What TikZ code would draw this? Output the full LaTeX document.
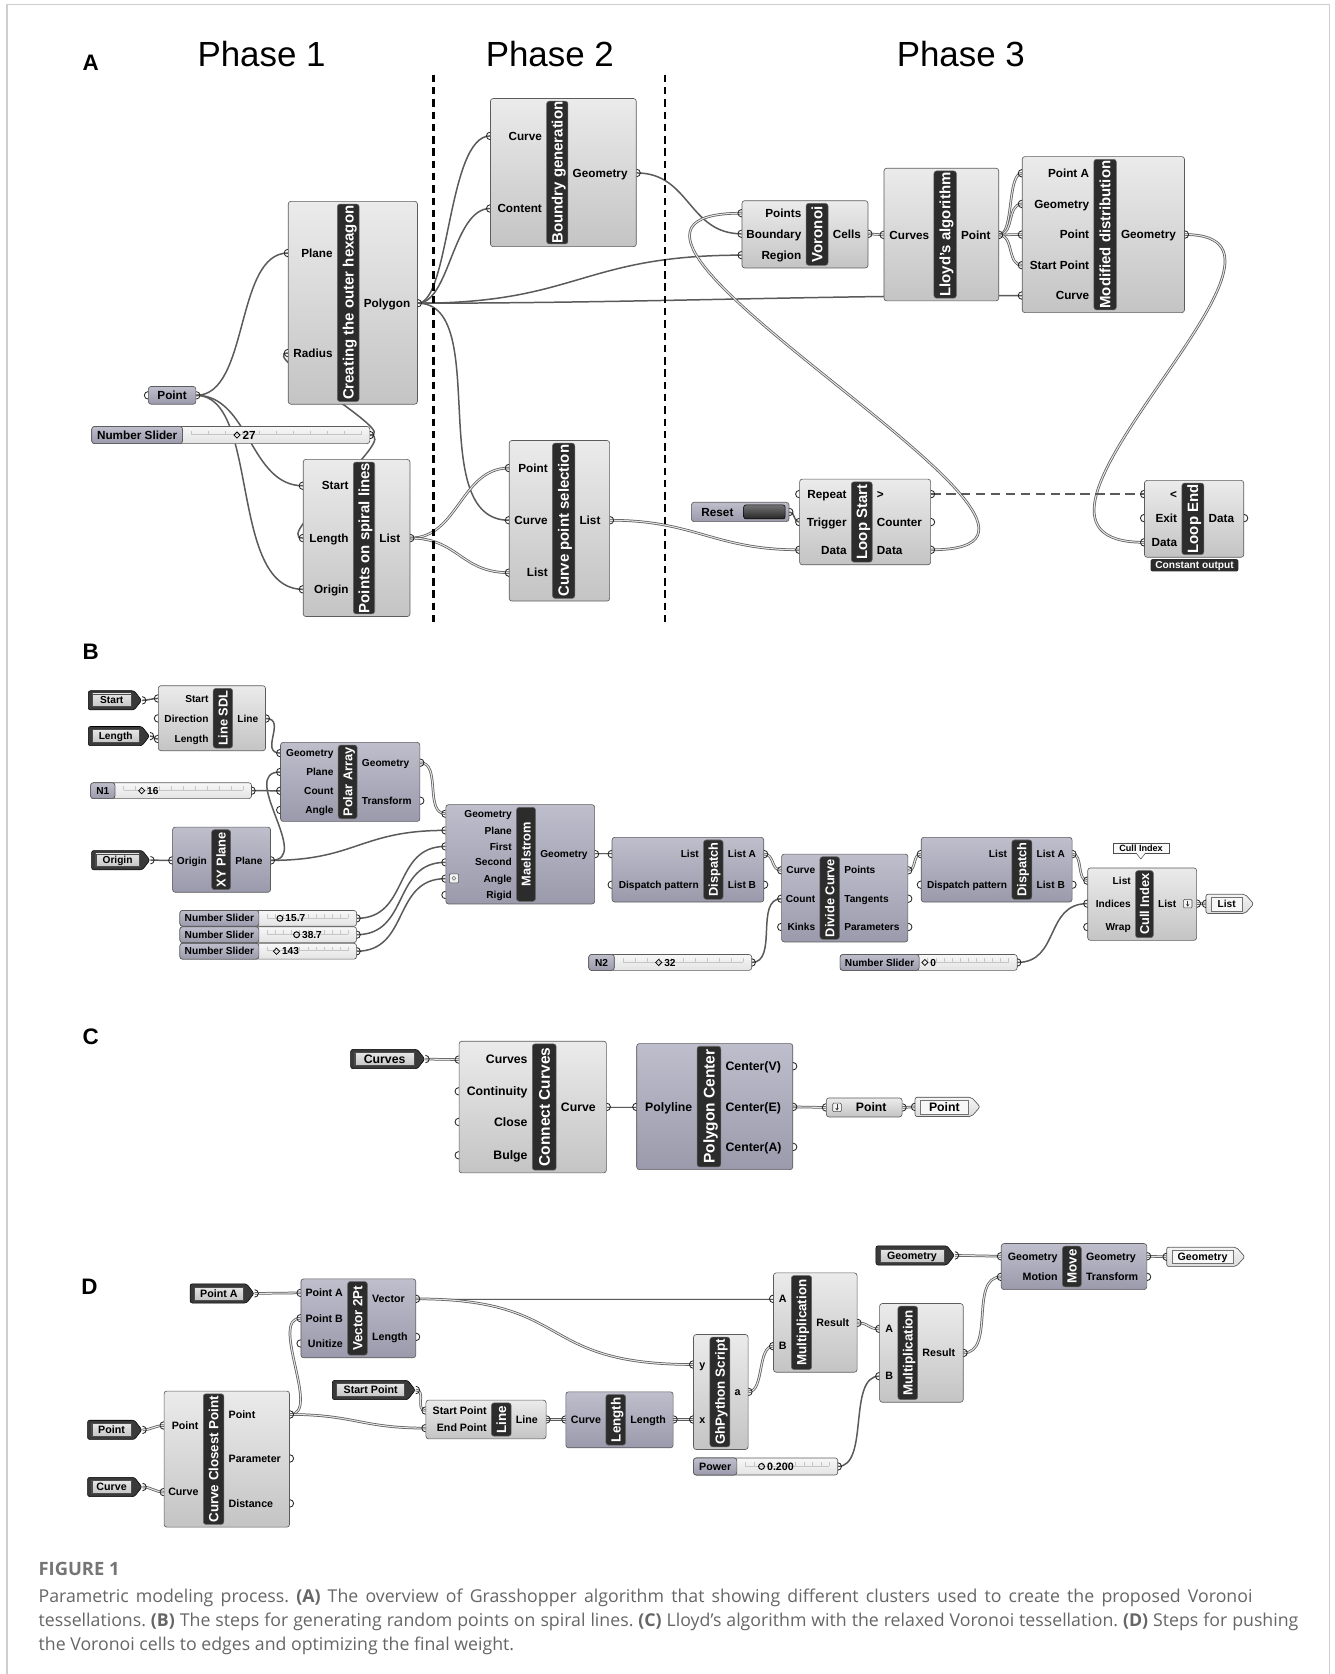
\documentclass[tikz,border=0pt]{standalone}
\usepackage{fontspec}
\setmainfont{Liberation Sans}
\setsansfont{Liberation Sans}
\newfontfamily\capfont{Open Sans}
\usetikzlibrary{positioning,fit,calc,shapes.geometric,arrows.meta,backgrounds}

\definecolor{compLt}{HTML}{EBEBEB}
\definecolor{compLb}{HTML}{C4C4C4}
\definecolor{compDt}{HTML}{BEBECC}
\definecolor{compDb}{HTML}{9A9AAC}
\definecolor{bordc}{HTML}{5C5C5C}
\definecolor{barc}{HTML}{2C2C2C}
\definecolor{wirec}{HTML}{5A5A5A}
\definecolor{dwirefill}{HTML}{E4E4E4}
\definecolor{darkpar}{HTML}{3A3A3A}
\definecolor{capc}{HTML}{666666}
\definecolor{framec}{HTML}{CFCFCF}

\newcommand{\sldh}{8}
\newcommand{\portL}[1]{\draw[port] (#1) ++(0,3.5) arc[start angle=90,end angle=270,radius=3.5];}
\newcommand{\portR}[1]{\draw[port] (#1) ++(0,-3.5) arc[start angle=-90,end angle=90,radius=3.5];}
% component: style, name, x1, y1, x2, y2, bar x1, bar x2, title
\newcommand{\ghbox}[9]{%
  \node[#1, fit={(#3,#4) (#5,#6)}] (#2) {};
  \node[ghbar, fit={(#7,#4+2.5) (#8,#6-2.5)}] (#2bar) {};
  \node[bartxt] (#2title) at (#2bar.center) {#9};}
\newcommand{\gin}[4]{%
  \coordinate (#2) at (#1.west |- 0,#3);
  \portL{#2}
  \node[lbl, anchor=east, xshift=-4pt] (#2l) at (#1bar.west |- #2) {#4};}
\newcommand{\gout}[4]{%
  \coordinate (#2) at (#1.east |- 0,#3);
  \portR{#2}
  \node[lbl, anchor=west, xshift=4pt] (#2l) at (#1bar.east |- #2) {#4};}
% dark input parameter: name, x1, x2, y, text
\newcommand{\ghdpar}[5]{%
  \filldraw[dparout] (#2,#4-9) -- (#3-7,#4-9) -- (#3,#4) -- (#3-7,#4+9) -- (#2,#4+9) -- cycle;
  \node[dparin, fit={(#2+4,#4-6) (#3-10,#4+6)}] (#1) {};
  \node[lbl] (#1t) at (#1.center) {#5};
  \coordinate (#1o) at (#3+0.5,#4);
  \portR{#1o}}
% light output parameter: name, x1, x2, y, text
\newcommand{\ghlpar}[5]{%
  \filldraw[lparout] (#2,#4-9) -- (#3-8,#4-9) -- (#3,#4) -- (#3-8,#4+9) -- (#2,#4+9) -- cycle;
  \node[lparin, fit={(#2+5,#4-6.5) (#3-11,#4+6.5)}] (#1) {};
  \node[lbl] (#1t) at (#1.center) {#5};
  \coordinate (#1i) at (#2,#4);
  \portL{#1i}}
% slider: name, x1, x2, y, label end, label, marker x, marker, value
\newcommand{\ghslider}[9]{%
  \node[sldtrack, fit={(#2,#4-\sldh) (#3,#4+\sldh)}] (#1) {};
  \filldraw[sldlab] (#2,#4-\sldh) rectangle (#5,#4+\sldh);
  \draw[sldtick] (#5+8,#4-0.5) -- (#3-8,#4-0.5);
  \foreach \k in {0,...,10}
    \draw[sldtick] ({#5+8+\k*(#3-#5-16)/10},#4-0.5) -- ++(0,-3.5);
  \node[#8] (#1m) at (#7,#4) {};
  \node[lbl, anchor=west] (#1v) at (#7+5,#4) {#9};
  \node[lbl] (#1l) at ({(#2+#5)/2},#4) {#6};
  \coordinate (#1o) at (#3,#4);
  \portR{#1o}}
\newcommand{\ghicon}[2]{%
  \draw[icon] (#1-4,#2-4) rectangle (#1+4,#2+4);
  \draw[iconarr] (#1,#2-2.8) -- (#1,#2+2.8);}

\begin{document}
\begin{tikzpicture}[x=1pt, y=-1pt,
    ghL/.style={draw=bordc, line width=0.6pt, rounded corners=2.5pt, top color=compLt, bottom color=compLb, inner sep=0pt},
    ghD/.style={ghL, top color=compDt, bottom color=compDb},
    ghbar/.style={fill=barc, draw=black!60, line width=0.5pt, rounded corners=2.5pt, inner sep=0pt},
    port/.style={draw=black!85, line width=0.8pt},
    wire/.style={draw=wirec, line width=1.4pt},
    dwire/.style={draw=wirec, line width=0.7pt, double=dwirefill, double distance=1pt},
    loopline/.style={draw=wirec, line width=2pt, dash pattern=on 9pt off 5pt},
    phasesep/.style={draw=black, line width=2.4pt, dash pattern=on 7pt off 4.5pt},
    dparout/.style={fill=darkpar, draw=black, line width=0.5pt, rounded corners=2pt},
    dparin/.style={draw=black!70, line width=0.5pt, top color=gray!20, bottom color=gray!45, inner sep=0pt},
    lparout/.style={draw=bordc, line width=0.6pt, top color=gray!8, bottom color=gray!28, rounded corners=2pt},
    lparin/.style={draw=black!55, line width=0.5pt, fill=white!94!gray, inner sep=0pt},
    sldtrack/.style={draw=bordc, line width=0.6pt, rounded corners=2.5pt, top color=gray!6, bottom color=gray!22, inner sep=0pt},
    sldlab/.style={draw=bordc, line width=0.6pt, rounded corners=2.5pt, top color=compDt, bottom color=compDb},
    sldtick/.style={draw=gray!45, line width=0.4pt},
    sdia/.style={diamond, draw=black, line width=0.7pt, minimum size=6pt, inner sep=0pt},
    scirc/.style={circle, draw=black, line width=0.9pt, minimum size=5.5pt, inner sep=0pt},
    icon/.style={draw=black!70, line width=0.5pt, fill=gray!10, rounded corners=1pt},
    iconarr/.style={draw=black!80, line width=0.6pt, -{Stealth[length=2.2pt,width=3pt]}},
    rstbtn/.style={draw=black, line width=0.5pt, top color=black!55, bottom color=black!85, rounded corners=2pt, inner sep=0pt},
    grpbox/.style={fill=barc, rounded corners=2pt, inner sep=0pt},
    tipbox/.style={draw=black!70, fill=white!95!gray, line width=0.5pt, inner sep=0pt},
    gh/.style={to path={.. controls +(#1,0) and +(-#1,0) .. (\tikztotarget)}},
    lbl/.style={font=\bfseries\fontsize{11}{11}\selectfont, inner sep=0pt, text height=7.9pt, text depth=0pt},
    bartxt/.style={text=white, rotate=90, font=\bfseries\fontsize{14}{14}\selectfont, inner sep=0pt, text height=10pt, text depth=0pt},
    sect/.style={font=\bfseries\fontsize{21}{21}\selectfont, anchor=base west, inner sep=0pt},
    phase/.style={font=\fontsize{32.7}{33}\selectfont, anchor=base, inner sep=0pt},
    captxt/.style={font=\capfont\fontsize{16.6}{19}\selectfont\frenchspacing, text=capc, anchor=base west, inner sep=0pt}]
  \useasboundingbox (0,0) rectangle (1250,1568);

  % frame
  \draw[framec, line width=1.4pt] (6.4,1568) -- (6.4,4.4) -- (1245.5,4.4) -- (1245.5,1568);

  % panel letters and phases
  \node[sect] (labA) at (77.3,66.2) {A};
  \node[sect] (labB) at (77.3,618) {B};
  \node[sect] (labC) at (77.3,978.5) {C};
  \node[sect] (labD) at (76,1212.5) {D};
  \node[phase] (phOne) at (245,62.4) {Phase 1};
  \node[phase] (phTwo) at (515,62.4) {Phase 2};
  \node[phase] (phThree) at (900,62.4) {Phase 3};
  \draw[phasesep] (406,70) -- (406,586);
  \draw[phasesep] (622.7,70) -- (622.7,586);

  % ---------- A ----------
  \node[ghD, fit={(139,362) (183.5,378.6)}] (aPt) {};
  \node[lbl] (aPtt) at (aPt) {Point};
  \coordinate (aPtIn) at (aPt.west); \portL{aPtIn}
  \coordinate (aPtOut) at (aPt.east); \portR{aPtOut}
  \ghslider{sld}{86}{346.4}{407.5}{171}{Number Slider}{222}{sdia}{27}

  \ghbox{ghL}{hex}{270}{188.6}{391}{378.6}{316}{336.4}{Creating the outer hexagon}
  \gin{hex}{hexPlane}{237}{Plane}
  \gin{hex}{hexRadius}{330.7}{Radius}
  \gout{hex}{hexPoly}{284}{Polygon}

  \ghbox{ghL}{psl}{284}{430.3}{384}{577.5}{331}{351}{Points on spiral lines}
  \gin{psl}{pslStart}{455}{Start}
  \gin{psl}{pslLength}{504}{Length}
  \gin{psl}{pslOrigin}{552}{Origin}
  \gout{psl}{pslList}{504}{List}

  \ghbox{ghL}{bg}{459.4}{92.3}{596}{231}{512}{532}{Boundry generation}
  \gin{bg}{bgCurve}{127.3}{Curve}
  \gin{bg}{bgContent}{195.3}{Content}
  \gout{bg}{bgGeo}{162}{Geometry}

  \ghbox{ghL}{cps}{477}{412.6}{571}{563}{517.5}{538.4}{Curve point selection}
  \gin{cps}{cpsPoint}{438.4}{Point}
  \gin{cps}{cpsCurve}{487.3}{Curve}
  \gin{cps}{cpsList}{536.4}{List}
  \gout{cps}{cpsOut}{487.3}{List}

  \ghbox{ghL}{vor}{695}{188}{813}{251}{755}{775.6}{Voronoi}
  \gin{vor}{vorPoints}{199.7}{Points}
  \gin{vor}{vorBound}{219}{Boundary}
  \gin{vor}{vorRegion}{239}{Region}
  \gout{vor}{vorCells}{219}{Cells}

  \ghbox{ghL}{ll}{828}{157.6}{935.5}{281.8}{874.8}{895.8}{Lloyd's algorithm}
  \gin{ll}{llCurves}{220}{Curves}
  \gout{ll}{llPt}{220}{Point}

  \ghbox{ghL}{md}{957.5}{146.7}{1109.5}{292.8}{1024.6}{1045.6}{Modified distribution}
  \gin{md}{mdPtA}{162.3}{Point A}
  \gin{md}{mdGeo}{191}{Geometry}
  \gin{md}{mdPt}{219.7}{Point}
  \gin{md}{mdStart}{248.4}{Start Point}
  \gin{md}{mdCurve}{276.8}{Curve}
  \gout{md}{mdOut}{219.7}{Geometry}

  \node[ghD, fit={(647.6,470.5) (739,488.6)}] (rst) {};
  \node[rstbtn, fit={(696.6,473) (735.5,486)}] (rstb) {};
  \node[lbl] (rstt) at (672,479.5) {Reset};
  \coordinate (rstOut) at (rst.east); \portR{rstOut}

  \ghbox{ghL}{ls}{749}{448.8}{871.7}{529}{797.4}{817}{Loop Start}
  \gin{ls}{lsRep}{462.8}{Repeat}
  \gin{ls}{lsTrig}{489}{Trigger}
  \gin{ls}{lsData}{515}{Data}
  \gout{ls}{lsMore}{462.8}{>}
  \gout{ls}{lsCnt}{489}{Counter}
  \gout{ls}{lsDataO}{515}{Data}

  \ghbox{ghL}{le}{1072}{450}{1165}{522}{1107}{1127.6}{Loop End}
  \gin{le}{leLess}{462.8}{<}
  \gin{le}{leExit}{485.3}{Exit}
  \gin{le}{leData}{508}{Data}
  \gout{le}{leOut}{485.3}{Data}
  \node[grpbox, fit={(1077.7,523.7) (1160,535.3)}] (leGrp) {};
  \node[lbl, text=white, font=\bfseries\fontsize{9.5}{9.5}\selectfont, text height=6.8pt] (leGrpt) at (leGrp) {Constant output};

  % ---------- B ----------
  \begin{scope}[lbl/.style={font=\bfseries\fontsize{9.5}{9.5}\selectfont, inner sep=0pt, text height=6.8pt, text depth=0pt},
      bartxt/.style={text=white, rotate=90, font=\bfseries\fontsize{12}{12}\selectfont, inner sep=0pt, text height=8.6pt, text depth=0pt}]
    \renewcommand{\sldh}{7.4}
    \ghdpar{bStart}{82.7}{132.7}{656}{Start}
    \ghdpar{bLen}{82.7}{140}{689.5}{Length}
    \ghbox{ghL}{sdl}{148.3}{642.3}{248.7}{703.2}{199.7}{217.9}{Line SDL}
    \gin{sdl}{sdlStart}{654.2}{Start}
    \gin{sdl}{sdlDir}{672.9}{Direction}
    \gin{sdl}{sdlLen}{692.2}{Length}
    \gout{sdl}{sdlLine}{673}{Line}

    \ghbox{ghD}{pa}{262.8}{695.4}{393.3}{769.4}{316.8}{334.6}{Polar Array}
    \gin{pa}{paGeo}{705.4}{Geometry}
    \gin{pa}{paPlane}{723.1}{Plane}
    \gin{pa}{paCount}{740.7}{Count}
    \gin{pa}{paAngle}{758.7}{Angle}
    \gout{pa}{paGeoO}{714.4}{Geometry}
    \gout{pa}{paTr}{750}{Transform}

    \ghslider{nOne}{84.9}{235.6}{740.6}{107.7}{N1}{132.7}{sdia}{16}

    \ghbox{ghD}{xy}{161.7}{774.7}{253.4}{835.8}{198.2}{216}{XY Plane}
    \gin{xy}{xyOrigin}{805.9}{Origin}
    \gout{xy}{xyPlane}{805.9}{Plane}
    \ghdpar{bOrg}{85.8}{140.4}{805.7}{Origin}

    \ghbox{ghD}{ma}{417.6}{753.7}{557}{846.7}{483.8}{501.6}{Maelstrom}
    \gin{ma}{maGeo}{762.2}{Geometry}
    \gin{ma}{maPlane}{777.8}{Plane}
    \gin{ma}{maFirst}{792.8}{First}
    \gin{ma}{maSecond}{807.7}{Second}
    \gin{ma}{maAngle}{823}{Angle}
    \gin{ma}{maRigid}{838.3}{Rigid}
    \gout{ma}{maOut}{800}{Geometry}
    \draw[icon] (421,818.5) rectangle (429.5,827);
    \draw[black!60, line width=0.5pt] (425.2,822.7) circle[radius=1.8pt];

    \ghslider{sOne}{168.5}{334}{860.2}{242.5}{Number Slider}{262.2}{scirc}{15.7}
    \ghslider{sTwo}{168.5}{334}{875.5}{242.5}{Number Slider}{277.8}{scirc}{38.7}
    \ghslider{sThree}{168.5}{334}{891}{242.5}{Number Slider}{259}{sdia}{143}

    \ghbox{ghD}{dOne}{573.3}{784.3}{715.4}{844.9}{659}{677.3}{Dispatch}
    \gin{dOne}{dOneList}{800}{List}
    \gin{dOne}{dOnePat}{828.7}{Dispatch pattern}
    \gout{dOne}{dOneA}{800}{List A}
    \gout{dOne}{dOneB}{828.7}{List B}

    \ghbox{ghD}{dc}{732.1}{800}{850.4}{882.3}{768}{786.4}{Divide Curve}
    \gin{dc}{dcCurve}{815.2}{Curve}
    \gin{dc}{dcCount}{841.8}{Count}
    \gin{dc}{dcKinks}{868.3}{Kinks}
    \gout{dc}{dcPts}{815.2}{Points}
    \gout{dc}{dcTan}{841.8}{Tangents}
    \gout{dc}{dcPar}{868.3}{Parameters}

    \ghbox{ghD}{dTwo}{862.9}{784.3}{1004.2}{844.9}{947.7}{966.6}{Dispatch}
    \gin{dTwo}{dTwoList}{800}{List}
    \gin{dTwo}{dTwoPat}{828.7}{Dispatch pattern}
    \gout{dTwo}{dTwoA}{800}{List A}
    \gout{dTwo}{dTwoB}{828.7}{List B}

    \ghbox{ghL}{ci}{1018.8}{813}{1120.8}{880.8}{1063.6}{1080.3}{Cull Index}
    \gin{ci}{ciList}{824.9}{List}
    \gin{ci}{ciInd}{846.4}{Indices}
    \gin{ci}{ciWrap}{868.3}{Wrap}
    \gout{ci}{ciOut}{846.4}{List}
    \ghicon{1112.5}{846.4}
    \node[tipbox, fit={(1042.7,789.6) (1094.9,799.6)}] (ciTip) {};
    \fill[white!95!gray] (1064.6,799) -- (1068.6,804.6) -- (1072.6,799) -- cycle;
    \draw[black!70, line width=0.5pt] (1064.6,799.6) -- (1068.6,804.6) -- (1072.6,799.6);
    \node[lbl, font=\bfseries\fontsize{8.5}{8.5}\selectfont, text height=6.1pt] (ciTipt) at (ciTip) {Cull Index};
    \ghlpar{lOut}{1129.6}{1174.3}{846.6}{List}

    \ghslider{nTwo}{551.5}{704.1}{901.5}{575.4}{N2}{617}{sdia}{32}
    \ghslider{nZero}{786.9}{952.8}{901.5}{860.9}{Number Slider}{866.3}{sdia}{0}
  \end{scope}

  % ---------- C ----------
  \begin{scope}[lbl/.style={font=\bfseries\fontsize{11.5}{11.5}\selectfont, inner sep=0pt, text height=8.2pt, text depth=0pt},
      bartxt/.style={text=white, rotate=90, font=\bfseries\fontsize{14.5}{14.5}\selectfont, inner sep=0pt, text height=10.4pt, text depth=0pt}]
    \ghdpar{cCurves}{328.5}{398}{992}{Curves}
    \ghbox{ghL}{cc}{430}{975.3}{568}{1098.6}{498.6}{521}{Connect Curves}
    \gin{cc}{ccCurves}{992.5}{Curves}
    \gin{cc}{ccCont}{1022.2}{Continuity}
    \gin{cc}{ccClose}{1050.9}{Close}
    \gin{cc}{ccBulge}{1082.1}{Bulge}
    \gout{cc}{ccCurve}{1036.8}{Curve}

    \ghbox{ghD}{pc}{596.4}{977.5}{742.6}{1095.5}{652.9}{675.2}{Polygon Center}
    \gin{pc}{pcPoly}{1036.8}{Polyline}
    \gout{pc}{pcV}{998.7}{Center(V)}
    \gout{pc}{pcE}{1036.8}{Center(E)}
    \gout{pc}{pcA}{1074.3}{Center(A)}

    \node[ghL, fit={(774,1028.4) (845,1046.2)}] (cPt) {};
    \ghicon{784}{1037.3}
    \node[lbl] (cPtt) at (816,1037.3) {Point};
    \coordinate (cPtIn) at (cPt.west); \portL{cPtIn}
    \coordinate (cPtOut) at (cPt.east); \portR{cPtOut}
    \ghlpar{cRes}{857.1}{918}{1036.8}{Point}
  \end{scope}

  % ---------- D ----------
  \begin{scope}[lbl/.style={font=\bfseries\fontsize{10}{10}\selectfont, inner sep=0pt, text height=7.2pt, text depth=0pt},
      bartxt/.style={text=white, rotate=90, font=\bfseries\fontsize{12.5}{12.5}\selectfont, inner sep=0pt, text height=9pt, text depth=0pt}]
    \ghdpar{dPtA}{178.1}{238}{1211.5}{Point A}
    \ghbox{ghD}{vt}{281.9}{1197.9}{389.4}{1271.8}{325.6}{344.1}{Vector 2Pt}
    \gin{vt}{vtA}{1211}{Point A}
    \gin{vt}{vtB}{1234.7}{Point B}
    \gin{vt}{vtU}{1258.4}{Unitize}
    \gout{vt}{vtVec}{1216.6}{Vector}
    \gout{vt}{vtLen}{1252.2}{Length}

    \ghdpar{dSt}{311.3}{389}{1302}{Start Point}
    \ghbox{ghL}{ln}{398.9}{1311.5}{511.5}{1347.7}{460.3}{478.8}{Line}
    \gin{ln}{lnStart}{1321.2}{Start Point}
    \gin{ln}{lnEnd}{1337.7}{End Point}
    \gout{ln}{lnOut}{1329.6}{Line}

    \ghbox{ghD}{lg}{530}{1303.7}{630.5}{1356.1}{567.5}{586}{Length}
    \gin{lg}{lgIn}{1329.6}{Curve}
    \gout{lg}{lgOut}{1329.6}{Length}

    \ghbox{ghL}{cp}{153.7}{1303}{271.2}{1430.4}{190.4}{209.7}{Curve Closest Point}
    \gin{cp}{cpPt}{1335.2}{Point}
    \gin{cp}{cpCrv}{1397.6}{Curve}
    \gout{cp}{cpPtO}{1324.9}{Point}
    \gout{cp}{cpPar}{1366.1}{Parameter}
    \gout{cp}{cpDist}{1408.2}{Distance}
    \ghdpar{dPt}{82}{133}{1339.3}{Point}
    \ghdpar{dCrv}{82}{133}{1392.8}{Curve}

    \ghbox{ghL}{py}{649.6}{1250}{700.7}{1357.7}{665}{683.7}{GhPython Script}
    \gin{py}{pyY}{1278.1}{y}
    \gin{py}{pyX}{1329.6}{x}
    \gout{py}{pyA}{1303.7}{a}

    \ghbox{ghL}{mOne}{724.5}{1192.3}{802.8}{1285.3}{741.2}{760.3}{Multiplication}
    \gin{mOne}{mOneA}{1216.6}{A}
    \gin{mOne}{mOneB}{1260.9}{B}
    \gout{mOne}{mOneR}{1239.1}{Result}

    \ghbox{ghL}{mTwo}{823.9}{1221}{902.2}{1313.4}{841}{859.6}{Multiplication}
    \gin{mTwo}{mTwoA}{1244.7}{A}
    \gin{mTwo}{mTwoB}{1289}{B}
    \gout{mTwo}{mTwoR}{1267.2}{Result}

    \ghdpar{dGeo}{820.5}{894}{1175.9}{Geometry}
    \ghbox{ghD}{mv}{937.9}{1164.8}{1074.1}{1207.9}{995.1}{1012.8}{Move}
    \gin{mv}{mvGeo}{1176.7}{Geometry}
    \gin{mv}{mvMot}{1196}{Motion}
    \gout{mv}{mvGeoO}{1176.7}{Geometry}
    \gout{mv}{mvTr}{1196}{Transform}
    \ghlpar{dOut}{1092.8}{1166}{1177.2}{Geometry}

    \ghslider{pw}{649.6}{784.7}{1373.6}{690.2}{Power}{713.3}{scirc}{0.200}
  \end{scope}

  % caption
  \node[captxt, font=\capfont\bfseries\fontsize{17.2}{19}\selectfont, text=capc!90!white] (figLab) at (36,1476) {FIGURE 1};
  \node[captxt] (capOne) at (36,1501) {\makebox[1137pt][s]{Parametric modeling process. \textbf{(A)} The overview of Grasshopper algorithm that showing different clusters used to create the proposed Voronoi}};
  \node[captxt] (capTwo) at (36,1523.5) {\makebox[1180pt][s]{tessellations. \textbf{(B)} The steps for generating random points on spiral lines. \textbf{(C)} Lloyd’s algorithm with the relaxed Voronoi tessellation. \textbf{(D)} Steps for pushing}};
  \node[captxt] (capThree) at (36,1546) {the Voronoi cells to edges and optimizing the final weight.};

  % wires
  \begin{scope}[on background layer]
    \fill[white] (0,0) rectangle (1250,1568);
    % A
    \draw[wire] (aPtOut) to[gh=50] (hexPlane);
    \draw[wire] (aPtOut) to[gh=50] (pslStart);
    \draw[wire] (aPtOut) .. controls +(60,0) and +(-70,0) .. (pslOrigin);
    \draw[wire] (sldo) to[gh=30] (hexRadius);
    \draw[wire] (sldo) to[gh=30] (pslLength);
    \draw[wire] (hexPoly) .. controls +(30,0) and +(-40,0) .. (bgCurve);
    \draw[wire] (hexPoly) .. controls +(30,0) and +(-35,0) .. (bgContent);
    \draw[wire] (hexPoly) to[gh=150] (vorRegion);
    \draw[wire] (hexPoly) to[gh=200] (mdCurve);
    \draw[wire] (hexPoly) .. controls +(70,0) and +(-80,0) .. (cpsCurve);
    \draw[wire] (bgGeo) to[gh=50] (vorBound);
    \draw[dwire] (pslList) to[gh=45] (cpsPoint);
    \draw[dwire] (pslList) to[gh=45] (cpsList);
    \draw[dwire] (cpsOut) to[gh=80] (lsData);
    \draw[wire] (rstOut) to[gh=6] (lsTrig);
    \draw[dwire] (lsDataO) .. controls +(210,0) and +(-220,0) .. (vorPoints);
    \draw[dwire] (vorCells) -- (llCurves);
    \foreach \p in {mdPtA,mdGeo,mdPt,mdStart}
      \draw[dwire] (llPt) to[gh=14] (\p);
    \draw[dwire] (mdOut) .. controls +(150,0) and +(-170,0) .. (leData);
    \draw[loopline] (lsMore) -- (leLess);
    % B
    \draw[wire] (bStarto) to[gh=6] (sdlStart);
    \draw[wire] (bLeno) to[gh=6] (sdlLen);
    \draw[wire] (sdlLine) to[gh=20] (paGeo);
    \draw[wire] (nOneo) to[gh=12] (paCount);
    \draw[wire] (xyPlane) to[gh=40] (paPlane);
    \draw[wire] (xyPlane) to[gh=80] (maPlane);
    \draw[wire] (bOrgo) to[gh=6] (xyOrigin);
    \draw[dwire] (paGeoO) to[gh=20] (maGeo);
    \draw[wire] (sOneo) to[gh=50] (maFirst);
    \draw[wire] (sTwoo) to[gh=50] (maSecond);
    \draw[wire] (sThreeo) to[gh=50] (maAngle);
    \draw[dwire] (maOut) -- (dOneList);
    \draw[dwire] (dOneA) to[gh=10] (dcCurve);
    \draw[wire] (nTwoo) to[gh=25] (dcCount);
    \draw[dwire] (dcPts) to[gh=8] (dTwoList);
    \draw[dwire] (dTwoA) to[gh=10] (ciList);
    \draw[wire] (nZeroo) to[gh=40] (ciInd);
    \draw[dwire] (ciOut) -- (lOuti);
    % C
    \draw[dwire] (cCurveso) -- (ccCurves);
    \draw[dwire] (ccCurve) -- (pcPoly);
    \draw[dwire] (pcE) -- (cPtIn);
    \draw[dwire] (cPtOut) -- (cResi);
    % D
    \draw[dwire] (dPtAo) -- (vtA);
    \draw[dwire] (vtVec) -- (mOneA);
    \draw[dwire] (vtVec) to[gh=150] (pyY);
    \draw[dwire] (cpPtO) to[gh=30] (vtB);
    \draw[dwire] (cpPtO) to[gh=60] (lnEnd);
    \draw[dwire] (dPto) to[gh=8] (cpPt);
    \draw[dwire] (dCrvo) to[gh=8] (cpCrv);
    \draw[dwire] (dSto) to[gh=10] (lnStart);
    \draw[dwire] (lnOut) -- (lgIn);
    \draw[dwire] (lgOut) -- (pyX);
    \draw[dwire] (pyA) to[gh=15] (mOneB);
    \draw[dwire] (mOneR) to[gh=12] (mTwoA);
    \draw[wire] (pwo) to[gh=30] (mTwoB);
    \draw[dwire] (mTwoR) to[gh=30] (mvMot);
    \draw[dwire] (dGeoo) -- (mvGeo);
    \draw[dwire] (mvGeoO) -- (dOuti);
  \end{scope}
\end{tikzpicture}
\end{document}
